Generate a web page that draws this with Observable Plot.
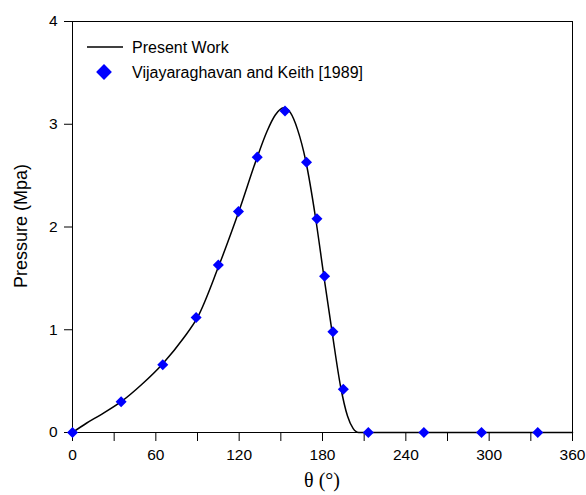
<!DOCTYPE html>
<html><head><meta charset="utf-8">
<script src="https://cdn.jsdelivr.net/npm/d3@7"></script>
<script src="https://cdn.jsdelivr.net/npm/@observablehq/plot@0.6"></script>
<style>body{margin:0;background:#fff}</style>
</head><body><div id="chart"></div>
<script>
// Present Work curve
const curveTheta = [0, 10, 20, 35, 50, 65, 80, 90, 105, 120, 133, 140, 146, 152, 157, 162, 168, 175, 181, 187, 193, 198, 202, 206, 360];
const curveP     = [0, 0.09, 0.17, 0.30, 0.47, 0.67, 0.92, 1.12, 1.61, 2.16, 2.68, 2.93, 3.09, 3.16, 3.11, 2.95, 2.64, 2.09, 1.52, 0.97, 0.45, 0.16, 0.04, 0, 0];
// Vijayaraghavan and Keith [1989]
const refTheta = [0, 35, 65, 89, 105, 119.5, 133, 153, 168.5, 176, 181.5, 187.5, 195, 213, 253, 294.5, 335];
const refP     = [0, 0.30, 0.66, 1.12, 1.63, 2.15, 2.68, 3.13, 2.63, 2.08, 1.52, 0.98, 0.42, 0, 0, 0, 0];
const xTicks = [0, 30, 60, 90, 120, 150, 180, 210, 240, 270, 300, 330, 360];
const yTicks = [0, 1, 2, 3, 4];
const legendLabels = ["Present Work", "Vijayaraghavan and Keith [1989]"];

const curve = curveTheta.map((t, i) => ({theta: t, p: curveP[i]}));
const ref = refTheta.map((t, i) => ({theta: t, p: refP[i]}));

const plot = Plot.plot({
  width: 586, height: 495,
  marginLeft: 72, marginRight: 14, marginTop: 21, marginBottom: 63,
  style: {fontFamily: "'Liberation Sans', Arial, sans-serif", fontSize: "15px", color: "#000", background: "#fff"},
  x: {domain: [0, 360]},
  y: {domain: [0, 4]},
  marks: [
    Plot.frame({stroke: "#000", strokeWidth: 1}),
    Plot.axisX({ticks: xTicks, tickSize: 9, tickPadding: 7, tickFormat: d => d % 60 === 0 ? d : "", label: null, fontSize: 15.5}),
    Plot.axisY({ticks: yTicks, tickSize: 8, tickPadding: 7, tickFormat: d3.format("d"), label: null, fontSize: 15.5}),
    Plot.line(curve, {x: "theta", y: "p", curve: "monotone-x", stroke: "#000", strokeWidth: 1.5}),
    Plot.dot(ref, {x: "theta", y: "p", symbol: "square", rotate: 45, r: 4.4, fill: "#0000ff", stroke: "none"})
  ]
});

const svg = d3.select(plot);
// axis labels
svg.append("text").attr("x", 322).attr("y", 487).attr("text-anchor", "middle")
  .attr("font-family", "'Liberation Serif', 'Times New Roman', serif").attr("font-size", 20)
  .text("θ (°)");
svg.append("text").attr("transform", "translate(27,226) rotate(-90)").attr("text-anchor", "middle")
  .attr("font-family", "'Liberation Sans', Arial, sans-serif").attr("font-size", 18).text("Pressure (Mpa)");
// legend
const lg = svg.append("g").attr("font-family", "'Liberation Sans', Arial, sans-serif").attr("font-size", 16).attr("text-anchor", "start");
lg.append("line").attr("x1", 87).attr("x2", 123).attr("y1", 47).attr("y2", 47).attr("stroke", "#000").attr("stroke-width", 1.5);
lg.append("text").attr("x", 132).attr("y", 53).text(legendLabels[0]);
lg.append("path").attr("d", d3.symbol(d3.symbolSquare, 125)()).attr("transform", "translate(104,72) rotate(45)").attr("fill", "#0000ff");
lg.append("text").attr("x", 132).attr("y", 78).text(legendLabels[1]);

document.getElementById("chart").appendChild(plot);
</script></body></html>
